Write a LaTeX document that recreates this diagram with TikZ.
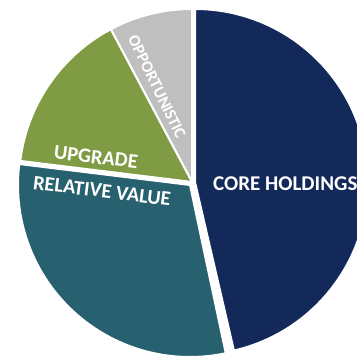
\documentclass[tikz,border=0pt]{standalone}
\usepackage{fontspec}
\setmainfont{Carlito}
\definecolor{corec}{HTML}{13295A}
\definecolor{rvc}{HTML}{27606F}
\definecolor{upc}{HTML}{7F9C44}
\definecolor{opc}{HTML}{BFBFBF}
\tikzset{
  slice/.style={draw=white, line width=2pt, line join=miter},
  lbl/.style={text=white, inner sep=0pt}
}
\begin{document}
\begin{tikzpicture}[x=1pt,y=1pt]
\useasboundingbox (0,0) rectangle (357,356);
\clip (0,0) rectangle (357,356);
% Core holdings (exploded right)
\coordinate (cc) at (195,174);
\fill[corec] (cc) -- ++(-77:173) arc[start angle=-77, end angle=90, radius=173] -- cycle;
\draw[slice] (cc) -- ++(-77:173) arc[start angle=-77, end angle=90, radius=173] -- cycle;
% Opportunistic
\coordinate (c0) at (192,174);
\fill[opc] (c0) -- ++(90:173) arc[start angle=90, end angle=118, radius=173] -- cycle;
\draw[slice] (c0) -- ++(90:173) arc[start angle=90, end angle=118, radius=173] -- cycle;
% Upgrade
\fill[upc] (c0) -- ++(118:173) arc[start angle=118, end angle=173, radius=173] -- cycle;
\draw[slice] (c0) -- ++(118:173) arc[start angle=118, end angle=173, radius=173] -- cycle;
% Relative value (slightly exploded)
\coordinate (cr) at (190,171);
\fill[rvc] (cr) -- ++(173:172) arc[start angle=173, end angle=282, radius=172] -- cycle;
\draw[slice] (cr) -- ++(173:172) arc[start angle=173, end angle=282, radius=172] -- cycle;
% Labels
\node[lbl, anchor=west, font=\bfseries\fontsize{21}{24}\selectfont] (core) at (213,172) {CORE HOLDINGS};
\node[lbl, rotate=-7, font=\bfseries\fontsize{20.5}{24}\selectfont] (rv) at (102,165) {RELATIVE VALUE};
\node[lbl, rotate=-7, font=\bfseries\fontsize{20.5}{24}\selectfont] (up) at (96,199) {UPGRADE};
\node[lbl, rotate=-64, font=\bfseries\fontsize{16.5}{18}\selectfont] (op) at (157,269) {OPPORTUNISTIC};
\end{tikzpicture}
\end{document}
